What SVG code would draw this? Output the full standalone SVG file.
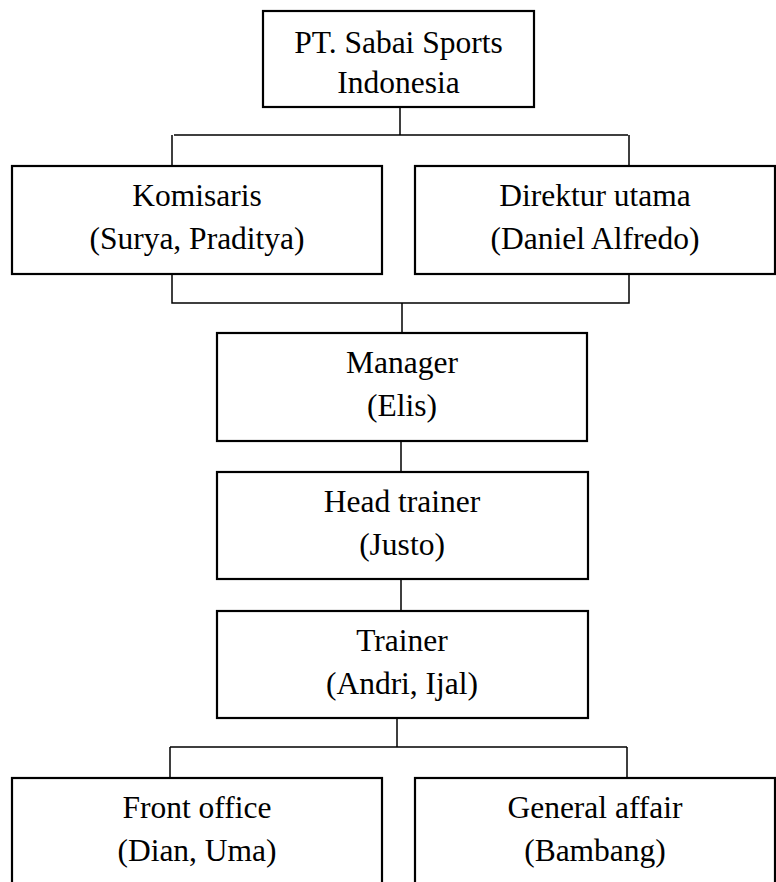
<svg xmlns="http://www.w3.org/2000/svg" width="776" height="882" viewBox="0 0 776 882">
<style>
.box{fill:#fff;stroke:#000;stroke-width:2.2}
.t{font-family:"Liberation Serif","Times New Roman",serif;font-size:31.5px;fill:#000;text-anchor:middle}
.c{fill:none;stroke:#000;stroke-width:1.5}
</style>
<rect width="776" height="882" fill="#fff"/>
<g id="connectors">
<path class="c" d="M400 107V135M174 135H628M172 135V166M629 135V166"/>
<path class="c" d="M172 274V303H629V274M402 303V333"/>
<path class="c" d="M401 441V472M401 579V611"/>
<path class="c" d="M397 718V747M170 747H627M170 747V778M627 747V778"/>
</g>
<g id="pt"><rect class="box" x="263" y="11" width="271" height="96"/><text class="t" x="398.5" y="53">PT. Sabai Sports</text><text class="t" x="398.5" y="93">Indonesia</text></g>
<g id="komisaris"><rect class="box" x="12" y="166" width="370" height="108"/><text class="t" x="197" y="206">Komisaris</text><text class="t" x="197" y="249">(Surya, Praditya)</text></g>
<g id="direktur"><rect class="box" x="415" y="166" width="360" height="108"/><text class="t" x="595" y="206">Direktur utama</text><text class="t" x="595" y="249">(Daniel Alfredo)</text></g>
<g id="manager"><rect class="box" x="217" y="333" width="370" height="108"/><text class="t" x="402" y="373">Manager</text><text class="t" x="402" y="416">(Elis)</text></g>
<g id="headtrainer"><rect class="box" x="217" y="472" width="371" height="107"/><text class="t" x="402" y="512">Head trainer</text><text class="t" x="402" y="555">(Justo)</text></g>
<g id="trainer"><rect class="box" x="217" y="611" width="371" height="107"/><text class="t" x="402" y="651">Trainer</text><text class="t" x="402" y="694">(Andri, Ijal)</text></g>
<g id="frontoffice"><rect class="box" x="12" y="778" width="370" height="120"/><text class="t" x="197" y="818">Front office</text><text class="t" x="197" y="861">(Dian, Uma)</text></g>
<g id="generalaffair"><rect class="box" x="415" y="778" width="360" height="120"/><text class="t" x="595" y="818">General affair</text><text class="t" x="595" y="861">(Bambang)</text></g>
</svg>
